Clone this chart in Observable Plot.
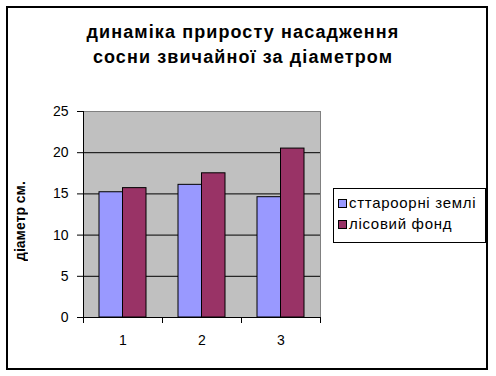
<!DOCTYPE html>
<html>
<head>
<meta charset="utf-8">
<script src="https://cdn.jsdelivr.net/npm/d3@7"></script>
<script src="https://cdn.jsdelivr.net/npm/@observablehq/plot@0.6"></script>
<style>
  html, body { margin: 0; padding: 0; background: #fff; }
  #root { position: relative; width: 496px; height: 376px; overflow: hidden; font-family: "Liberation Sans", Arial, sans-serif; }
  #outer { position: absolute; left: 6px; top: 6px; width: 478px; height: 360px; border: 2px solid #000; }
  #title { position: absolute; left: 0; top: 20px; width: 486px; text-align: center; font-weight: bold; font-size: 18px; line-height: 25px; letter-spacing: 1.1px; }
  #chart { position: absolute; left: 0; top: 100px; }
  #ylab { position: absolute; left: 12px; top: 171px; width: 17px; height: 100px; }
  #ylab span { position: absolute; left: 0; top: 0; height: 100px; writing-mode: vertical-rl; transform: rotate(180deg); text-align: center; font-weight: bold; font-size: 14px; line-height: 16px; white-space: nowrap; }
  #legend { position: absolute; left: 333px; top: 188px; width: 151px; height: 53px; border: 1px solid #000; background: #fff; }
  .item { position: absolute; left: 4px; height: 16px; font-size: 15px; line-height: 16px; letter-spacing: 0.7px; white-space: nowrap; }
  .sw { display: inline-block; width: 7px; height: 7px; border: 1px solid #000; margin-right: 2px; vertical-align: 0px; }
</style>
</head>
<body>
<div id="root">
  <div id="outer"></div>
  <div id="title"></div>
  <div id="ylab"><span></span></div>
  <div id="chart"></div>
  <div id="legend"></div>
</div>
<script>
const titleLines = ["динаміка приросту насадження", "сосни звичайної за діаметром"];
const yLabel = "діаметр см.";
const categories = ["1", "2", "3"];
const seriesNames = ["сттароорні землі", "лісовий фонд"];
const seriesA = [15.2, 16.1, 14.6];
const seriesB = [15.7, 17.5, 20.5];
const yTicks = [0, 5, 10, 15, 20, 25];
const gridValues = [5, 10, 15, 20];
const colors = ["#9999ff", "#993366"];

const dataA = categories.map((c, i) => ({cat: c, value: seriesA[i], series: seriesNames[0]}));
const dataB = categories.map((c, i) => ({cat: c, value: seriesB[i], series: seriesNames[1]}));

document.getElementById("title").innerHTML = titleLines.join("<br>");
document.querySelector("#ylab span").textContent = yLabel;

const W = 330, H = 257, mL = 83, mR = 10, mT = 11, mB = 40;
const bw = (W - mL - mR) / categories.length;
const plotH = H - mT - mB;
const barW = 23.5, gap = 16;

const chart = Plot.plot({
  width: W, height: H,
  marginLeft: mL, marginRight: mR, marginTop: mT, marginBottom: mB,
  style: {fontFamily: "'Liberation Sans', Arial, sans-serif", fontSize: "14px", color: "#000", background: "transparent", overflow: "visible"},
  x: {domain: categories, padding: 0, tickSize: 0, tickPadding: 18, label: null},
  y: {domain: [0, 25], ticks: yTicks, tickSize: 6, tickPadding: 9, label: null},
  marks: [
    Plot.frame({fill: "#c0c0c0", stroke: "none"}),
    Plot.ruleY(gridValues, {stroke: "#000", strokeWidth: 1}),
    Plot.ruleY([25], {stroke: "#808080"}),
    Plot.ruleX([categories[categories.length - 1]], {stroke: "#808080", dx: bw / 2}),
    Plot.barY(dataA, {x: "cat", y: "value", fill: colors[0], stroke: "#000", strokeWidth: 1, insetLeft: gap, insetRight: bw - gap - barW}),
    Plot.barY(dataB, {x: "cat", y: "value", fill: colors[1], stroke: "#000", strokeWidth: 1, insetLeft: gap + barW, insetRight: gap}),
    Plot.ruleY([0], {stroke: "#000"}),
    Plot.ruleX([categories[0]], {stroke: "#000", dx: -bw / 2}),
    Plot.ruleX(categories, {stroke: "#000", dx: -bw / 2, insetTop: plotH, insetBottom: -6}),
    Plot.ruleX([categories[categories.length - 1]], {stroke: "#000", dx: bw / 2, insetTop: plotH, insetBottom: -6})
  ]
});
document.getElementById("chart").appendChild(chart);

const legend = document.getElementById("legend");
seriesNames.forEach((name, i) => {
  const item = document.createElement("div");
  item.className = "item";
  item.style.top = (6 + i * 21) + "px";
  const sw = document.createElement("span");
  sw.className = "sw";
  sw.style.background = colors[i];
  item.appendChild(sw);
  item.appendChild(document.createTextNode(name));
  legend.appendChild(item);
});
</script>
</body>
</html>
